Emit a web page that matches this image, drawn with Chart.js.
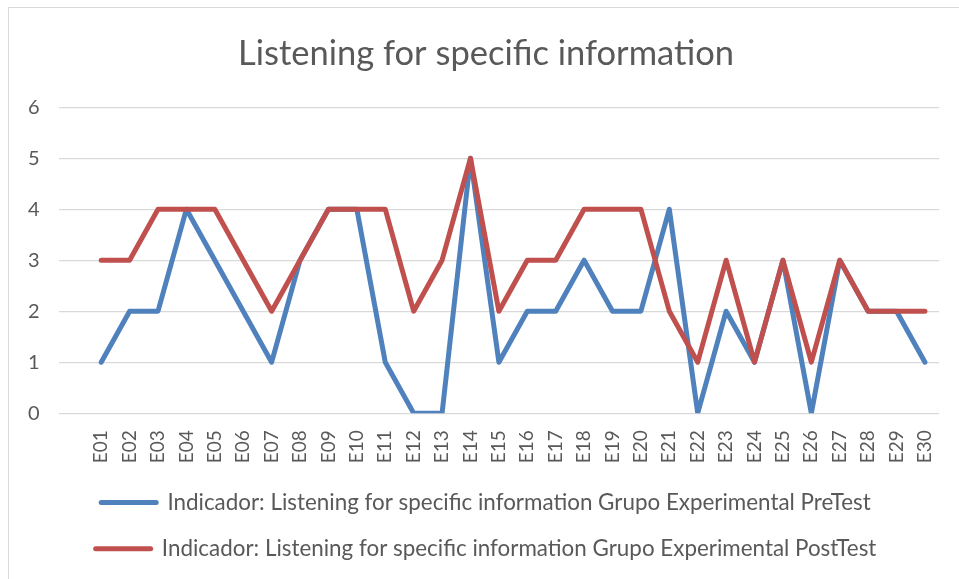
<!DOCTYPE html>
<html>
<head>
<meta charset="utf-8">
<script src="https://cdn.jsdelivr.net/npm/chart.js@4"></script>
<style>
  html, body { margin: 0; padding: 0; background: #fff; }
  #wrap { position: relative; width: 959px; height: 579px; overflow: hidden; }
  #frame { position: absolute; left: 8px; top: 7px; width: 1000px; height: 620px; border: 1px solid #d9d9d9; box-sizing: border-box; }
  #chart { position: absolute; left: 0; top: 0; }
</style>
</head>
<body>
<div id="wrap">
  <div id="frame"></div>
  <canvas id="chart" width="959" height="579"></canvas>
</div>
<script>
// first category is empty in the original sheet
const categories = ['', 'E01', 'E02', 'E03', 'E04', 'E05', 'E06', 'E07', 'E08', 'E09', 'E10',
    'E11', 'E12', 'E13', 'E14', 'E15', 'E16', 'E17', 'E18', 'E19', 'E20',
    'E21', 'E22', 'E23', 'E24', 'E25', 'E26', 'E27', 'E28', 'E29', 'E30'];
const preTest = [null, 1, 2, 2, 4, 3, 2, 1, 3, 4, 4, 1, 0, 0, 5, 1, 2, 2, 3, 2, 2, 4, 0, 2, 1, 3, 0, 3, 2, 2, 1];
const postTest = [null, 3, 3, 4, 4, 4, 3, 2, 3, 4, 4, 4, 2, 3, 5, 2, 3, 3, 4, 4, 4, 2, 1, 3, 1, 3, 1, 3, 2, 2, 2];
const yTicks = [0, 1, 2, 3, 4, 5, 6];

const textColor = '#595959';
const gridColor = '#d9d9d9';
const blue = '#4f81bd';
const red = '#c0504d';

Chart.defaults.font.family = 'Lato, "Open Sans", sans-serif';
Chart.defaults.color = textColor;

document.addEventListener('DOMContentLoaded', function() {
    const ctx = document.getElementById('chart');
    new Chart(ctx, {
        type: 'line',
        data: {
            labels: categories,
            datasets: [{
                label: 'Indicador: Listening for specific information Grupo Experimental PreTest',
                data: preTest,
                borderColor: blue,
                backgroundColor: blue,
                borderWidth: 5,
                borderCapStyle: 'round',
                borderJoinStyle: 'round',
                pointRadius: 0,
                tension: 0,
                order: 2
            }, {
                label: 'Indicador: Listening for specific information Grupo Experimental PostTest',
                data: postTest,
                borderColor: red,
                backgroundColor: red,
                borderWidth: 5,
                borderCapStyle: 'round',
                borderJoinStyle: 'round',
                pointRadius: 0,
                tension: 0,
                order: 1
            }]
        },
        options: {
            responsive: false,
            animation: false,
            devicePixelRatio: 1,
            layout: {
                padding: { left: 28, right: 15, top: 0, bottom: 9 }
            },
            scales: {
                x: {
                    offset: true,
                    grid: { display: false, drawTicks: true, tickLength: 6 },
                    border: { display: false },
                    ticks: {
                        autoSkip: false,
                        minRotation: 90,
                        maxRotation: 90,
                        padding: 11,
                        font: { size: 19 }
                    },
                    afterFit: function(scale) { scale.height = 54; }
                },
                y: {
                    min: yTicks[0],
                    max: yTicks[yTicks.length - 1],
                    grid: { color: gridColor, lineWidth: 1.3, drawTicks: false },
                    border: { display: false },
                    ticks: { stepSize: 1, padding: 9.5, crossAlign: 'far', font: { size: 20 } }
                }
            },
            plugins: {
                title: {
                    display: true,
                    text: 'Listening for specific information',
                    color: textColor,
                    font: { size: 34.5, weight: 'normal' },
                    padding: { top: 33, bottom: 32.8 }
                },
                legend: {
                    position: 'bottom',
                    labels: {
                        usePointStyle: true,
                        pointStyle: 'line',
                        pointStyleWidth: 55,
                        padding: 24,
                        color: textColor,
                        font: { size: 22.4 },
                        sort: (a, b) => a.datasetIndex - b.datasetIndex,
                        generateLabels: function(chart) {
                            const items = Chart.defaults.plugins.legend.labels.generateLabels(chart);
                            items.forEach(it => {
                                const ds = chart.data.datasets[it.datasetIndex];
                                it.lineCap = 'round';
                                it.lineWidth = 5;
                                it.strokeStyle = ds.borderColor;
                                it.fillStyle = ds.borderColor;
                            });
                            return items;
                        }
                    }
                },
                tooltip: { enabled: false }
            }
        }
    });
});
</script>
</body>
</html>
